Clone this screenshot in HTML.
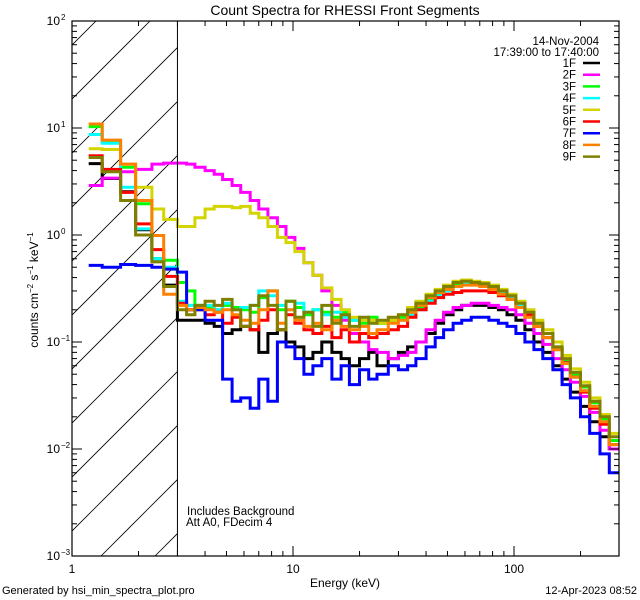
<!DOCTYPE html>
<html><head><meta charset="utf-8"><style>
body{margin:0;background:#fff;}
svg{display:block;font-family:"Liberation Sans",sans-serif;}
</style></head><body>
<svg id="chart" width="640" height="600" viewBox="0 0 640 600" xmlns="http://www.w3.org/2000/svg">
<rect width="640" height="600" fill="#fff"/>
<text x="345" y="15" font-size="14" text-anchor="middle">Count Spectra for RHESSI Front Segments</text>
<defs><clipPath id="hclip"><rect x="72" y="21" width="105.5" height="535"/></clipPath><clipPath id="pclip"><rect x="72" y="21" width="547" height="535"/></clipPath></defs>
<g id="hatch" clip-path="url(#hclip)"></g>
<g id="series" clip-path="url(#pclip)"></g>
<g id="axes"></g>
<text x="345" y="587" font-size="12" text-anchor="middle">Energy (keV)</text>
<text transform="translate(38,290) rotate(-90)" font-size="12" text-anchor="middle">counts cm<tspan font-size="8" dy="-5">−2</tspan><tspan dy="5"> s</tspan><tspan font-size="8" dy="-5">−1</tspan><tspan dy="5"> keV</tspan><tspan font-size="8" dy="-5">−1</tspan></text>
<text x="187" y="515" font-size="11.5">Includes Background</text>
<text x="186" y="526" font-size="11.5">Att A0, FDecim 4</text>
<text x="2" y="594" font-size="11">Generated by hsi_min_spectra_plot.pro</text>
<text x="637" y="594" font-size="11" text-anchor="end">12-Apr-2023 08:52</text>
<text x="599" y="45" font-size="11.5" text-anchor="end">14-Nov-2004</text>
<text x="599" y="56" font-size="11.5" text-anchor="end">17:39:00 to 17:40:00</text>
<g id="legend"></g>
</svg>
<script>
const edges=[1.19,1.37,1.66,1.94,2.3,2.6,3.0,3.3,3.6,4,4.4,4.8,5.3,5.8,6.4,7,7.7,8.5,9.3,10.2,11.2,12.3,13.5,15,16.5,18,20,22,24,27,30,33,36,40,44,48,53,58,64,70,77,85,93,102,112,123,135,150,165,180,200,220,245,270,300];
const seriesNames=["1F","2F","3F","4F","5F","6F","7F","8F","9F"];
const seriesColors=["#000000","#ff00ff","#00ff00","#00ffff","#d4d400","#ff0000","#0000ff","#ff8000","#808000"];
const s1F=[4.65,3.37,2.54,1.12,0.6,0.34,0.16,0.16,0.16,0.15,0.14,0.12,0.13,0.14,0.13,0.08,0.12,0.13,0.1,0.09,0.07,0.08,0.1,0.08,0.07,0.06,0.07,0.08,0.06,0.07,0.08,0.09,0.1,0.12,0.15,0.18,0.2,0.22,0.22,0.22,0.21,0.2,0.18,0.16,0.13,0.1,0.08,0.06,0.045,0.034,0.025,0.018,0.013,0.01];
const s2F=[2.9,3.4,3.9,4.1,4.6,4.7,4.7,4.6,4.3,4.0,3.7,3.3,2.9,2.5,2.1,1.75,1.45,1.2,0.95,0.75,0.55,0.42,0.3,0.22,0.16,0.12,0.1,0.085,0.08,0.07,0.075,0.08,0.1,0.13,0.16,0.19,0.21,0.22,0.23,0.23,0.22,0.21,0.2,0.18,0.15,0.12,0.095,0.07,0.055,0.042,0.031,0.022,0.015,0.01];
const s3F=[10.3,7.6,4.3,1.96,0.6,0.58,0.36,0.3,0.22,0.21,0.2,0.22,0.21,0.2,0.19,0.26,0.3,0.2,0.24,0.21,0.18,0.2,0.19,0.17,0.19,0.16,0.15,0.17,0.15,0.16,0.17,0.19,0.21,0.25,0.28,0.31,0.34,0.36,0.36,0.35,0.33,0.3,0.27,0.23,0.19,0.15,0.12,0.09,0.068,0.05,0.038,0.027,0.019,0.012];
const s4F=[8.7,7.2,2.8,1.14,0.6,0.5,0.24,0.22,0.21,0.22,0.2,0.23,0.2,0.21,0.22,0.3,0.27,0.22,0.2,0.23,0.19,0.2,0.18,0.19,0.17,0.16,0.16,0.15,0.15,0.16,0.16,0.18,0.2,0.24,0.27,0.3,0.33,0.35,0.35,0.34,0.32,0.29,0.26,0.22,0.18,0.14,0.11,0.085,0.064,0.047,0.035,0.025,0.018,0.011];
const s5F=[6.4,6.3,4.6,2.8,1.75,1.4,1.2,1.2,1.45,1.75,1.85,1.85,1.8,1.85,1.6,1.45,1.2,0.95,0.85,0.7,0.55,0.42,0.32,0.25,0.2,0.17,0.16,0.16,0.15,0.16,0.18,0.21,0.24,0.28,0.31,0.34,0.37,0.38,0.37,0.36,0.34,0.31,0.28,0.24,0.2,0.16,0.13,0.1,0.075,0.056,0.042,0.03,0.021,0.014];
const s6F=[5.5,4.1,2.5,1.27,0.73,0.41,0.23,0.2,0.2,0.18,0.19,0.15,0.17,0.14,0.13,0.16,0.2,0.13,0.18,0.15,0.13,0.12,0.14,0.11,0.13,0.1,0.12,0.11,0.12,0.13,0.14,0.17,0.2,0.23,0.26,0.28,0.29,0.3,0.3,0.3,0.29,0.27,0.25,0.21,0.18,0.14,0.11,0.085,0.064,0.047,0.034,0.024,0.017,0.011];
const s7F=[0.52,0.5,0.53,0.52,0.5,0.48,0.45,0.2,0.2,0.16,0.16,0.045,0.028,0.03,0.024,0.045,0.028,0.1,0.09,0.07,0.05,0.06,0.07,0.045,0.06,0.04,0.055,0.045,0.05,0.06,0.055,0.06,0.07,0.09,0.11,0.13,0.15,0.16,0.17,0.17,0.16,0.15,0.14,0.12,0.1,0.085,0.07,0.055,0.04,0.03,0.02,0.014,0.009,0.006];
const s8F=[10.9,7.7,4.6,2.1,0.99,0.28,0.22,0.2,0.21,0.2,0.19,0.2,0.18,0.16,0.15,0.2,0.3,0.15,0.2,0.16,0.14,0.15,0.13,0.16,0.14,0.13,0.14,0.12,0.13,0.15,0.16,0.19,0.22,0.26,0.29,0.31,0.33,0.34,0.34,0.33,0.31,0.28,0.25,0.21,0.17,0.14,0.11,0.085,0.063,0.047,0.035,0.025,0.018,0.011];
const s9F=[5.3,3.9,2.1,1.0,0.56,0.33,0.2,0.18,0.22,0.24,0.22,0.25,0.2,0.14,0.22,0.27,0.22,0.13,0.24,0.17,0.19,0.14,0.22,0.15,0.18,0.14,0.17,0.15,0.16,0.17,0.18,0.2,0.23,0.27,0.3,0.33,0.36,0.37,0.36,0.35,0.33,0.3,0.27,0.23,0.19,0.15,0.12,0.09,0.07,0.052,0.039,0.028,0.02,0.013];
const allSeries=[s1F,s2F,s3F,s4F,s5F,s6F,s7F,s8F,s9F];
const xTickLabels=["1","10","100"];
const yTickExps=[-3,-2,-1,0,1,2];

const NS="http://www.w3.org/2000/svg";
const L=72,R=619,T=21,B=556;
const XMAX=Math.pow(10,(R-L)/221);
function xs(e){return L+(R-L)*Math.log10(e)/Math.log10(XMAX);}
function ys(v){return B-(B-T)*(Math.log10(v)+3)/5;}
function mk(tag,attrs,parent){const el=document.createElementNS(NS,tag);for(const k in attrs)el.setAttribute(k,attrs[k]);parent.appendChild(el);return el;}

// hatch
const hatch=document.getElementById('hatch');
for(let c=155;c>-600;c-=54){
  const ln=mk('line',{x1:c,y1:B,x2:c+600,y2:B-600,stroke:'#000','stroke-width':0.8},hatch);
  
  
}
const axes=document.getElementById('axes');
const vl=mk('line',{x1:xs(3),y1:T,x2:xs(3),y2:B,stroke:'#000','stroke-width':1},axes);



// series
const sg=document.getElementById('series');
allSeries.forEach((vals,si)=>{
  let d='';
  for(let i=0;i<vals.length;i++){
    const x0=xs(edges[i]),x1=xs(edges[i+1]),y=ys(vals[i]);
    d+=(i===0?'M':'L')+x0.toFixed(1)+','+y.toFixed(1)+'L'+x1.toFixed(1)+','+y.toFixed(1);
  }
  const p=mk('path',{d:d,fill:'none',stroke:seriesColors[si],'stroke-width':3,'stroke-linejoin':'miter'},sg);
  
  
});

// frame
const fr=mk('rect',{x:L,y:T,width:R-L,height:B-T,fill:'none',stroke:'#000','stroke-width':1.2},axes);


// x ticks
for(let dec=1;dec<=100;dec*=10){
  for(let m=1;m<10;m++){
    const e=dec*m; if(e>XMAX) break;
    const x=xs(e),len=m===1?10:5;
    mk('line',{x1:x,y1:B,x2:x,y2:B-len,stroke:'#000'},axes);
    mk('line',{x1:x,y1:T,x2:x,y2:T+len,stroke:'#000'},axes);
  }
}
xTickLabels.forEach(t=>{
  const tx=mk('text',{x:xs(+t),y:B+17,'font-size':12,'text-anchor':'middle'},axes);
  tx.textContent=t;
  
  
});
// y ticks
yTickExps.forEach(ex=>{
  for(let m=1;m<10;m++){
    const v=Math.pow(10,ex)*m; if(ex===2&&m>1) break;
    const y=ys(v),len=m===1?10:5;
    mk('line',{x1:L,y1:y,x2:L+len,y2:y,stroke:'#000'},axes);
    mk('line',{x1:R,y1:y,x2:R-len,y2:y,stroke:'#000'},axes);
  }
  const tx=mk('text',{x:60,y:ys(Math.pow(10,ex))+4,'font-size':12,'text-anchor':'end'},axes);
  
  
  tx.appendChild(document.createTextNode('10'));
  const sp=mk('tspan',{x:61,dy:-5,'font-size':8,'text-anchor':'start'},tx);
  sp.textContent=ex<0?'−'+(-ex):String(ex);
});

// legend
const lg=document.getElementById('legend');
seriesNames.forEach((n,i)=>{
  const y=67+i*11.7;
  const g=mk('g',{},lg);
  
  
  const t=mk('text',{x:576,y:y,'font-size':11.5,'text-anchor':'end'},g);
  t.textContent=n;
  mk('line',{x1:583,y1:y-4,x2:600,y2:y-4,stroke:seriesColors[i],'stroke-width':2.5},g);
});
</script>
</body></html>
